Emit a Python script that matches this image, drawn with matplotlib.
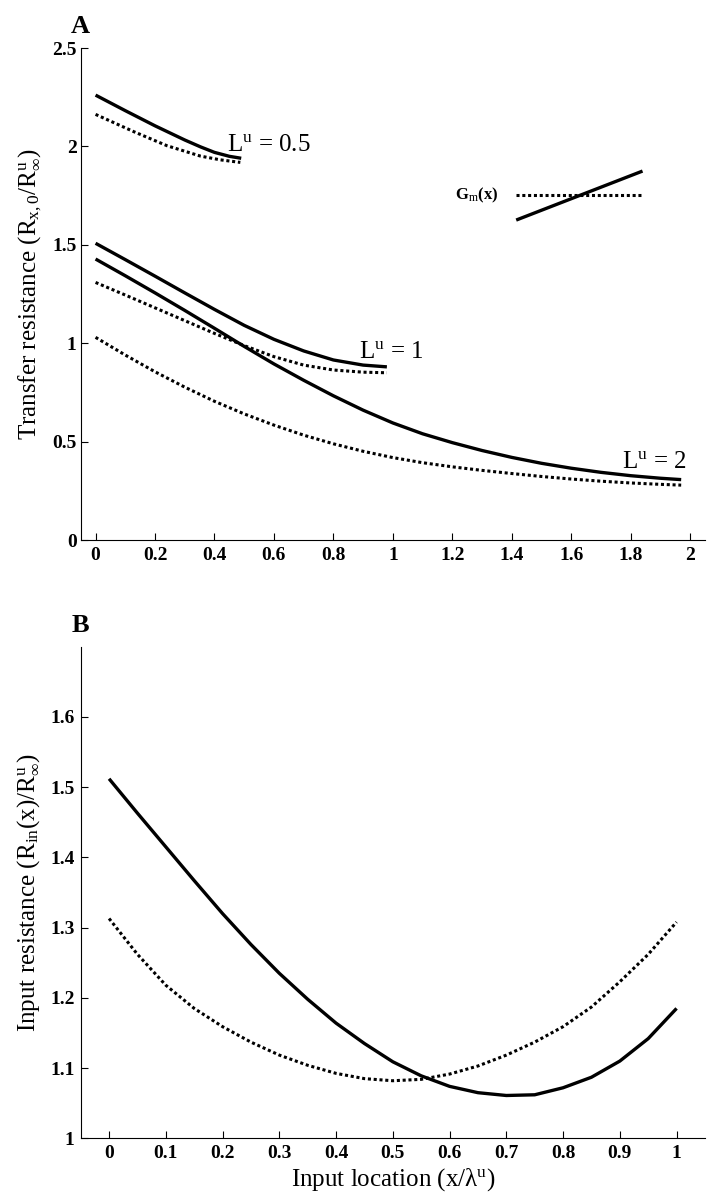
import numpy as np
import matplotlib
matplotlib.use('Agg')
import matplotlib.pyplot as plt
from matplotlib.ticker import FuncFormatter

plt.rcParams['font.family'] = ['Liberation Serif', 'DejaVu Serif']
plt.rcParams['mathtext.fontset'] = 'custom'
plt.rcParams['mathtext.rm'] = 'Liberation Serif'
plt.rcParams['mathtext.it'] = 'Liberation Serif:italic'
plt.rcParams['mathtext.bf'] = 'Liberation Serif:bold'

# ---- panel A : transfer resistance ----
x_L05 = [0, 0.1, 0.2, 0.3, 0.353, 0.4, 0.45, 0.49]
solid_L05 = [2.261, 2.182, 2.105, 2.033, 1.998, 1.970, 1.950, 1.940]
x_L05d = [0, 0.129, 0.24, 0.353, 0.42, 0.487]
dotted_L05 = [2.163, 2.075, 2.004, 1.951, 1.932, 1.919]

x_L1 = [0, 0.1, 0.2, 0.3, 0.4, 0.5, 0.6, 0.7, 0.8, 0.9, 0.98]
solid_L1 = [1.508, 1.425, 1.341, 1.256, 1.172, 1.091, 1.020, 0.961, 0.915, 0.889, 0.880]
dotted_L1 = [1.309, 1.245, 1.180, 1.115, 1.050, 0.988, 0.932, 0.889, 0.864, 0.853, 0.850]

x_L2 = [0, 0.1, 0.2, 0.3, 0.4, 0.5, 0.6, 0.7, 0.8, 0.9, 1.0,
        1.1, 1.2, 1.3, 1.4, 1.5, 1.6, 1.7, 1.8, 1.9, 1.97]
solid_L2 = [1.428, 1.343, 1.256, 1.167, 1.076, 0.984, 0.895, 0.812, 0.733, 0.660, 0.595,
            0.540, 0.495, 0.455, 0.420, 0.390, 0.365, 0.344, 0.327, 0.314, 0.307]
dotted_L2 = [1.030, 0.940, 0.855, 0.777, 0.705, 0.641, 0.584, 0.533, 0.489, 0.451, 0.419,
             0.393, 0.372, 0.354, 0.338, 0.323, 0.310, 0.299, 0.290, 0.283, 0.279]

# little Gm(x) key drawn inside panel A
gm_x = [1.415, 1.84]
gm_uniform = [1.753, 1.753]
gm_graded = [1.626, 1.875]

curve_labels = [r'L$^{\rm u}$ = 0.5', r'L$^{\rm u}$ = 1', r'L$^{\rm u}$ = 2']
label_pos = [(0.442, 1.977), (0.885, 0.923), (1.77, 0.364)]

# ---- panel B : input resistance ----
xb = [0, 0.05, 0.1, 0.15, 0.2, 0.25, 0.3, 0.35, 0.4, 0.45, 0.5,
      0.55, 0.6, 0.65, 0.7, 0.75, 0.8, 0.85, 0.9, 0.95, 1.0]
solid_b = [1.512, 1.463, 1.415, 1.367, 1.32, 1.276, 1.235, 1.198, 1.164, 1.135, 1.109,
           1.089, 1.074, 1.065, 1.061, 1.062, 1.072, 1.087, 1.110, 1.142, 1.185]
dotted_b = [1.313, 1.262, 1.218, 1.185, 1.159, 1.137, 1.1185, 1.104, 1.0925, 1.085, 1.082,
            1.084, 1.0915, 1.103, 1.1185, 1.137, 1.159, 1.187, 1.223, 1.262, 1.308]

xa_ticks = [0, 0.2, 0.4, 0.6, 0.8, 1, 1.2, 1.4, 1.6, 1.8, 2]
ya_ticks = [0, 0.5, 1, 1.5, 2, 2.5]
xb_ticks = [0, 0.1, 0.2, 0.3, 0.4, 0.5, 0.6, 0.7, 0.8, 0.9, 1]
yb_ticks = [1, 1.1, 1.2, 1.3, 1.4, 1.5, 1.6]

SOLID = dict(color='black', lw=2.4, solid_capstyle='butt')
DOT = dict(color='black', lw=2.2, linestyle=(0, (1, 0.9)), dash_capstyle='butt')

fmt = FuncFormatter(lambda v, p: '%g' % v)


def style_axes(ax, ypad):
    for s in ['top', 'right']:
        ax.spines[s].set_visible(False)
    for s in ['left', 'bottom']:
        ax.spines[s].set_linewidth(0.8)
    ax.tick_params(direction='in', length=5, width=0.8, labelsize=14)
    ax.tick_params(axis='x', pad=5)
    ax.tick_params(axis='y', pad=ypad)
    ax.xaxis.set_major_formatter(fmt)
    ax.yaxis.set_major_formatter(fmt)
    for lab in ax.get_xticklabels() + ax.get_yticklabels():
        lab.set_fontweight('bold')


fig = plt.figure(figsize=(7.11, 11.99), dpi=100)

# ---------------- A ----------------
axA = fig.add_axes([0.1135, 0.5496, 0.878, 0.4103])
axA.plot(x_L05, solid_L05, **SOLID)
axA.plot(x_L05d, dotted_L05, **DOT)
axA.plot(x_L1, solid_L1, **SOLID)
axA.plot(x_L1, dotted_L1, **DOT)
axA.plot(x_L2, solid_L2, **SOLID)
axA.plot(x_L2, dotted_L2, **DOT)
axA.plot(gm_x, gm_uniform, **DOT)
axA.plot(gm_x, gm_graded, **SOLID)
axA.text(1.21, 1.753, r'G$_{\rm m}$(x)', fontsize=12, fontweight='bold', va='center')
for txt, (tx, ty) in zip(curve_labels, label_pos):
    axA.text(tx, ty, txt, fontsize=18, va='baseline')
axA.set_xlim(-0.05, 2.05)
axA.set_ylim(0, 2.5)
axA.set_xticks(xa_ticks)
axA.set_yticks(ya_ticks)
style_axes(axA, 3)
axA.set_ylabel(r'Transfer resistance (R$_{\rm x,0}$/R$^{\rm u}_{\infty}$)', fontsize=18, labelpad=6)
fig.text(0.1135, 1 - 33 / 1199, 'A', fontsize=19, fontweight='bold', ha='center', va='baseline')

# ---------------- B ----------------
axB = fig.add_axes([0.1135, 0.0506, 0.878, 0.41])
axB.plot(xb, solid_b, **SOLID)
axB.plot(xb, dotted_b, **DOT)
axB.set_xlim(-0.05, 1.05)
axB.set_ylim(1, 1.7)
axB.set_xticks(xb_ticks)
axB.set_yticks(yb_ticks)
style_axes(axB, 4.5)
axB.set_ylabel(r'Input resistance (R$_{\rm in}$(x)/R$^{\rm u}_{\infty}$)', fontsize=18, labelpad=6)
axB.set_xlabel(r'Input location (x/λ$^{\rm u}$)', fontsize=18, labelpad=3)
fig.text(0.1135, 1 - 631.7 / 1199, 'B', fontsize=19, fontweight='bold', ha='center', va='baseline')

fig.savefig('out.png', dpi=100)
